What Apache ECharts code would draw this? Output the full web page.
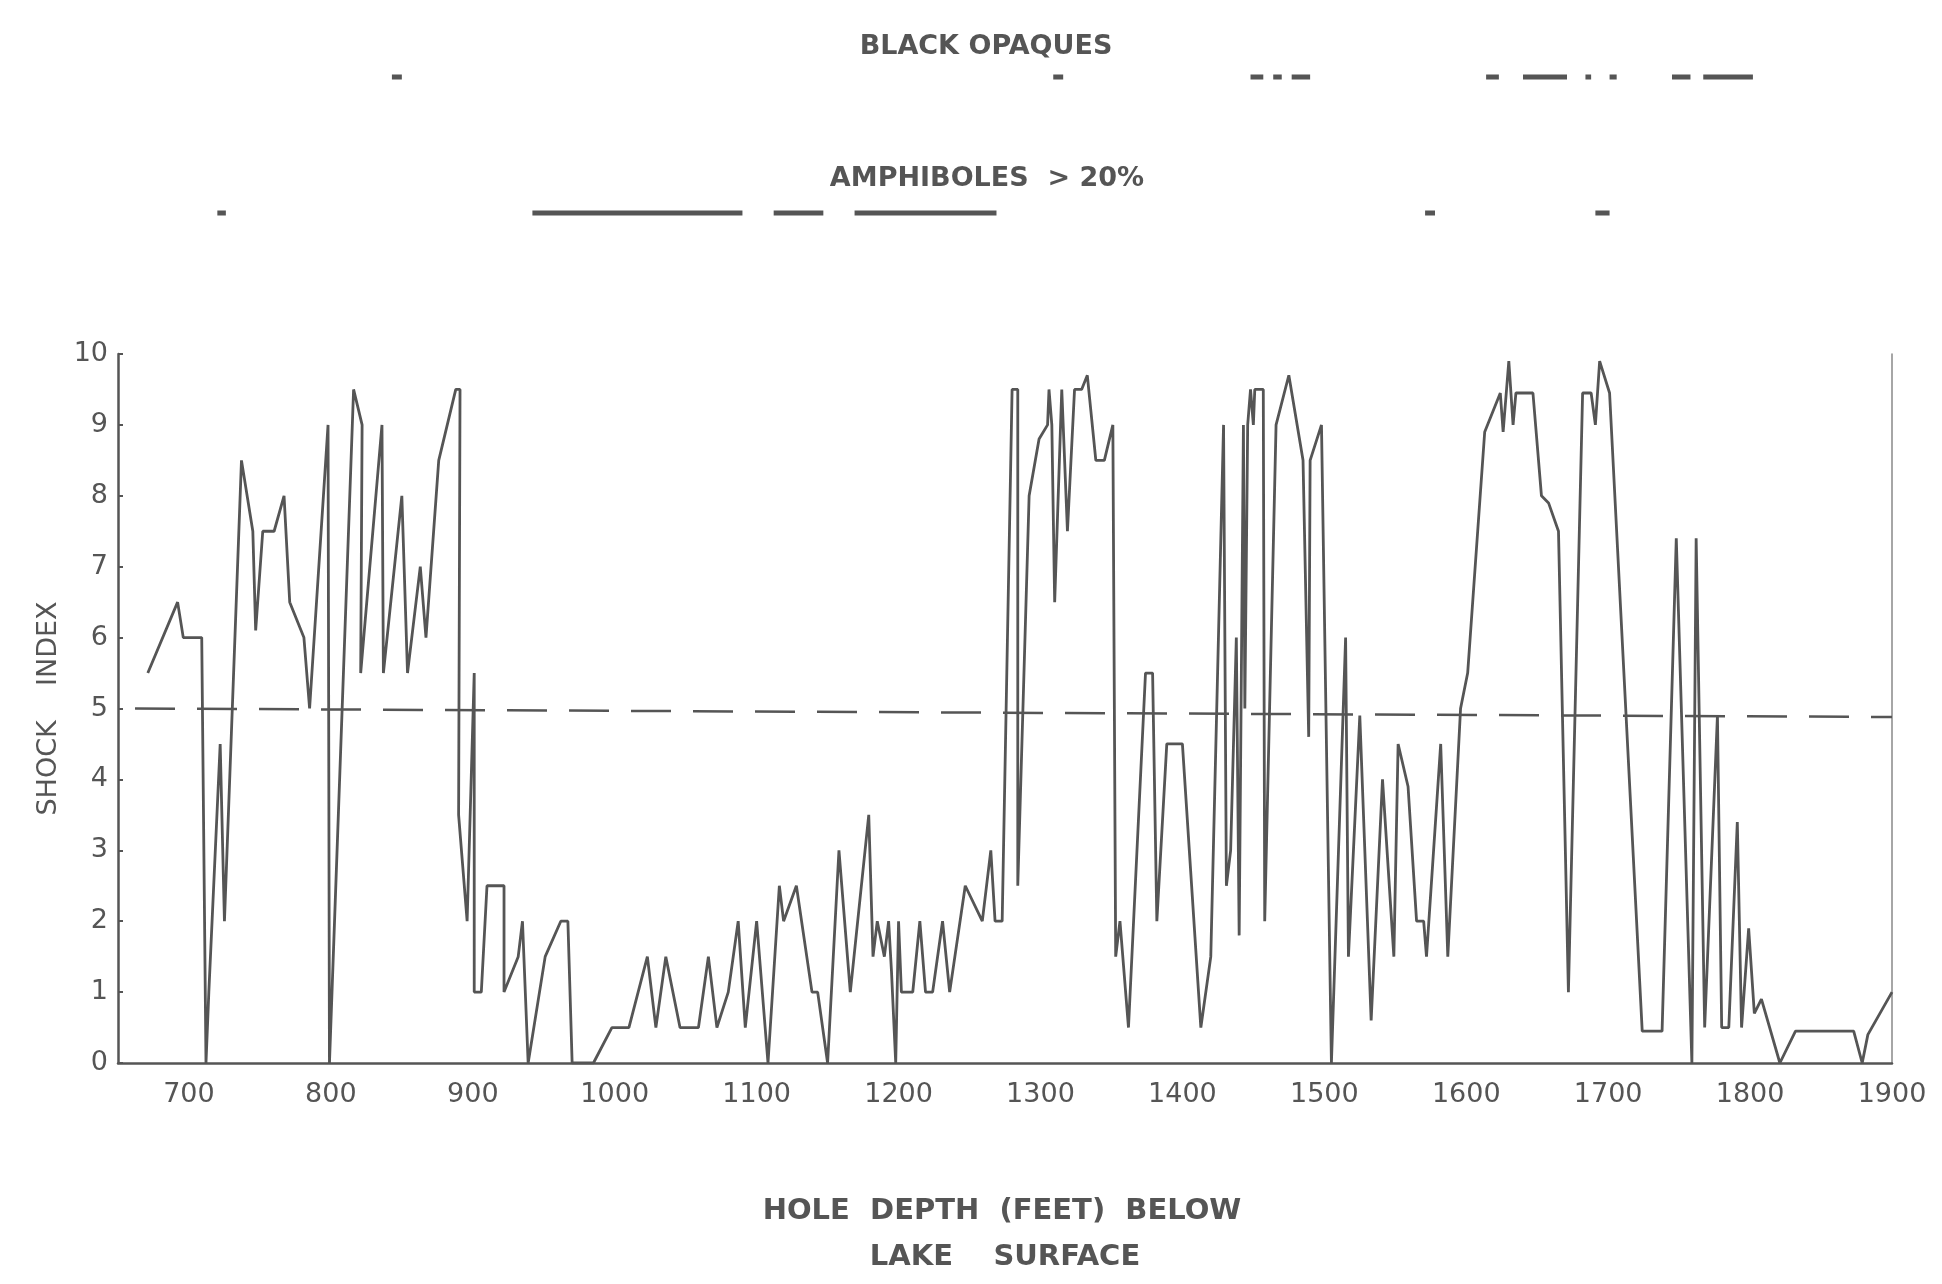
<!DOCTYPE html>
<html>
<head>
<meta charset="utf-8">
<script src="https://cdn.jsdelivr.net/npm/echarts@6/dist/echarts.min.js"></script>
<style>html,body{margin:0;background:#fff}#main{width:1942px;height:1284px}</style>
</head>
<body>
<div id="main"></div>
<script>
var depth = [671,692,696,709,712,714,722,725,737,745,747,752,760,767,771,781,785,798,799,816,822,821,836,837,850,854,863,867,876,888,891,890,896,901,901,906,910,922,922,932,935,939,951,962,967,970,985,998,1010,1023,1029,1036,1046,1059,1066,1072,1080,1087,1092,1100,1108,1116,1119,1128,1139,1143,1150,1158,1166,1179,1182,1185,1190,1193,1195,1198,1200,1202,1210,1215,1219,1224,1231,1236,1247,1259,1265,1268,1273,1280,1284,1284,1292,1299,1305,1306,1308,1310,1315,1319,1324,1329,1333,1339,1345,1351,1353,1356,1362,1374,1379,1382,1389,1400,1413,1420,1429,1431,1434,1438,1440,1443,1444,1446,1448,1450,1451,1457,1458,1466,1475,1485,1489,1490,1498,1505,1515,1517,1525,1533,1541,1549,1552,1559,1565,1570,1572,1582,1587,1596,1601,1613,1624,1626,1630,1633,1635,1647,1653,1658,1665,1672,1682,1688,1691,1694,1701,1724,1738,1748,1759,1762,1768,1777,1780,1785,1791,1794,1799,1803,1808,1821,1832,1873,1879,1883,1900];
var shock = [5.5,6.5,6.0,6.0,0,1.0,4.5,2.0,8.5,7.5,6.1,7.5,7.5,8.0,6.5,6.0,5.0,9.0,0,9.5,9.0,5.5,9.0,5.5,8.0,5.5,7.0,6.0,8.5,9.5,9.5,3.5,2.0,5.5,1.0,1.0,2.5,2.5,1.0,1.5,2.0,0,1.5,2.0,2.0,0,0,0.5,0.5,1.5,0.5,1.5,0.5,0.5,1.5,0.5,1.0,2.0,0.5,2.0,0,2.5,2.0,2.5,1.0,1.0,0,3.0,1.0,3.5,1.5,2.0,1.5,2.0,1.3,0,2.0,1.0,1.0,2.0,1.0,1.0,2.0,1.0,2.5,2.0,3.0,2.0,2.0,9.5,9.5,2.5,8.0,8.8,9.0,9.5,9.0,6.5,9.5,7.5,9.5,9.5,9.7,8.5,8.5,9.0,1.5,2.0,0.5,5.5,5.5,2.0,4.5,4.5,0.5,1.5,9.0,2.5,3.0,6.0,1.8,9.0,5.0,9.0,9.5,9.0,9.5,9.5,2.0,9.0,9.7,8.5,4.6,8.5,9.0,0,6.0,1.5,4.9,0.6,4.0,1.5,4.5,3.9,2.0,2.0,1.5,4.5,1.5,5.0,5.5,8.9,9.45,8.9,9.9,9.0,9.45,9.45,8.0,7.9,7.5,1.0,9.45,9.45,9.0,9.9,9.45,0.45,0.45,7.4,0,7.4,0.5,4.9,0.5,0.5,3.4,0.5,1.9,0.7,0.9,0,0.45,0.45,0,0.4,1.0];
var refLine = [[662,5.0],[1900,4.88]];
var opaqueRanges = [[843,850],[1309,1316],[1448,1457],[1464,1470],[1477,1490],[1614,1623],[1640,1671],[1684,1688],[1701,1706],[1745,1758],[1767,1802]];
var amphRanges = [[720,726],[942,1090],[1112,1147],[1169,1269],[1571,1578],[1691,1701]];
var xTicks = [700,800,900,1000,1100,1200,1300,1400,1500,1600,1700,1800,1900];

var ink = '#555';
function segs(ranges, y) {
  var out = [];
  ranges.forEach(function (r) { out.push([r[0], y], [r[1], y], [r[1], '-']); });
  return out;
}
var chart = echarts.init(document.getElementById('main'));
chart.setOption({
  backgroundColor: '#fff',
  animation: false,
  textStyle: { fontFamily: 'DejaVu Sans', color: ink },
  title: [
    { text: 'BLACK OPAQUES', left: 981, top: 28, textAlign: 'center', textStyle: { fontSize: 27, fontWeight: 'bold', color: ink } },
    { text: 'AMPHIBOLES  > 20%', left: 982, top: 160, textAlign: 'center', textStyle: { fontSize: 27, fontWeight: 'bold', color: ink } },
    { text: 'HOLE  DEPTH  (FEET)  BELOW', left: 997, top: 1192, textAlign: 'center', textStyle: { fontSize: 29, fontWeight: 'bold', color: ink } },
    { text: 'LAKE    SURFACE', left: 1000, top: 1238, textAlign: 'center', textStyle: { fontSize: 29, fontWeight: 'bold', color: ink } }
  ],
  grid: [
    { left: 118, right: 50, top: 354, bottom: 221 },
    { left: 118, right: 50, top: 60, height: 170 }
  ],
  xAxis: [{
    type: 'value', min: 650, max: 1900, interval: 50,
    axisLine: { lineStyle: { color: ink, width: 2.5 } },
    axisTick: { show: false },
    splitLine: { show: false },
    axisLabel: { fontSize: 27, color: ink, margin: 18,
      formatter: function (v) { return xTicks.indexOf(v) >= 0 ? String(v) : ''; } }
  }, {
    gridIndex: 1, type: 'value', min: 650, max: 1900, show: false
  }],
  yAxis: [{
    type: 'value', min: 0, max: 10, interval: 1,
    name: 'SHOCK    INDEX', nameLocation: 'middle', nameRotate: 90, nameGap: 46,
    nameTextStyle: { fontSize: 27, color: ink },
    axisLine: { show: true, lineStyle: { color: ink, width: 2.5 } },
    axisTick: { show: true, length: 5, inside: true, lineStyle: { color: ink, width: 2 } },
    splitLine: { show: false },
    axisLabel: { fontSize: 27, color: ink, margin: 10 }
  }, {
    type: 'value', min: 0, max: 10, position: 'right',
    axisLine: { show: true, lineStyle: { color: '#888', width: 1.5 } },
    axisTick: { show: false }, axisLabel: { show: false }, splitLine: { show: false }
  }, {
    gridIndex: 1, type: 'value', min: 0, max: 1, inverse: true, show: false
  }],
  series: [{
    type: 'line', data: depth.map(function (d, i) { return [d, shock[i]]; }),
    showSymbol: false, lineStyle: { color: ink, width: 2.8 }
  }, {
    type: 'line', data: refLine, showSymbol: false,
    lineStyle: { color: ink, width: 2.5, type: [40, 22] }
  }, {
    type: 'line', xAxisIndex: 1, yAxisIndex: 2, data: segs(opaqueRanges, 0.1),
    showSymbol: false, connectNulls: false, lineStyle: { color: ink, width: 5 }
  }, {
    type: 'line', xAxisIndex: 1, yAxisIndex: 2, data: segs(amphRanges, 0.9),
    showSymbol: false, connectNulls: false, lineStyle: { color: ink, width: 5 }
  }]
});
</script>
</body>
</html>
